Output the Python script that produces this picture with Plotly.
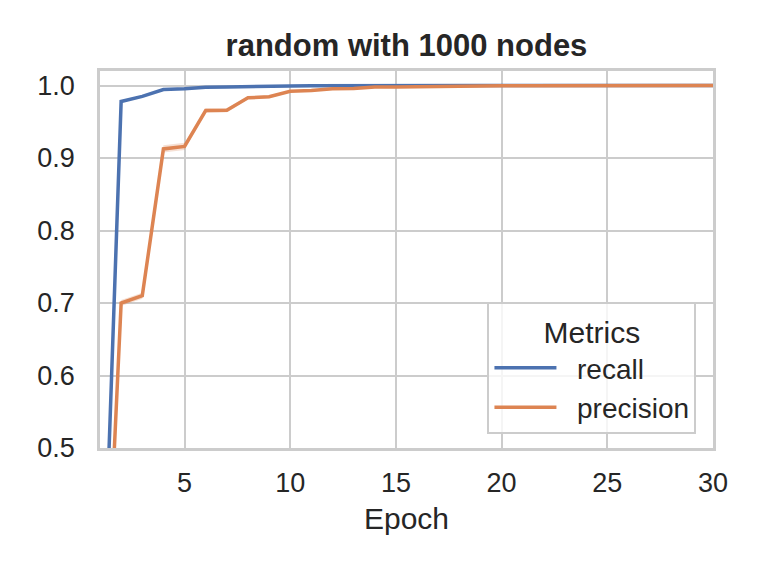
import plotly.graph_objects as go

epochs = list(range(1, 31))
recall = [0.14, 0.978, 0.985, 0.9945, 0.9955, 0.9977, 0.998, 0.9988, 0.999, 0.9993,
          0.9995, 0.9997, 0.9998, 0.9999, 0.9999, 1.0, 1.0, 1.0, 1.0, 1.0,
          1.0, 1.0, 1.0, 1.0, 1.0, 1.0, 1.0, 1.0, 1.0, 1.0]
precision = [0.075, 0.700, 0.710, 0.9125, 0.916, 0.9655, 0.966, 0.983, 0.9844, 0.992,
             0.993, 0.9955, 0.996, 0.998, 0.998, 0.9985, 0.999, 0.999, 0.9993, 0.9995,
             0.9996, 0.9997, 0.9997, 0.9998, 0.9998, 0.9999, 0.9999, 0.9999, 1.0, 1.0]
precision_ci = [0.01, 0.004, 0.004, 0.005, 0.005, 0.003, 0.003, 0.002, 0.002, 0.001,
                0.001, 0.001, 0.001, 0.0005, 0.0005, 0.0005, 0.0005, 0.0003, 0.0003, 0.0003,
                0.0002, 0.0002, 0.0002, 0.0002, 0.0001, 0.0001, 0.0001, 0.0001, 0.0001, 0.0001]

title_text = "random with 1000 nodes"
x_label = "Epoch"
legend_title = "Metrics"
series_names = ["recall", "precision"]
x_ticks = [5, 10, 15, 20, 25, 30]
y_ticks = [0.5, 0.6, 0.7, 0.8, 0.9, 1.0]

BLUE = "#4c72b0"
ORANGE = "#dd8452"
GRID = "#cccccc"
TEXT = "#262626"
FONT = "Liberation Sans, Arial, sans-serif"
PAD = "\u00a0\u00a0"

# page body has an 8px default margin; size the figure to fill the rest
W, H = 753, 563

upper = [p + c for p, c in zip(precision, precision_ci)]
lower = [p - c for p, c in zip(precision, precision_ci)]

fig = go.Figure()
fig.add_trace(go.Scatter(x=epochs, y=upper, mode="lines", line=dict(width=0),
                         showlegend=False, hoverinfo="skip"))
fig.add_trace(go.Scatter(x=epochs, y=lower, mode="lines", line=dict(width=0),
                         fill="tonexty", fillcolor="rgba(221,132,82,0.25)",
                         showlegend=False, hoverinfo="skip"))
fig.add_trace(go.Scatter(x=epochs, y=recall, mode="lines", name=PAD + series_names[0],
                         line=dict(color=BLUE, width=3.5)))
fig.add_trace(go.Scatter(x=epochs, y=precision, mode="lines", name=PAD + series_names[1],
                         line=dict(color=ORANGE, width=3.5)))

fig.update_layout(
    width=W, height=H,
    margin=dict(l=92, r=48, t=63, b=123),
    plot_bgcolor="white", paper_bgcolor="white",
    font=dict(family=FONT, color=TEXT, size=27),
    title=dict(text="<b>" + title_text + "</b>", x=0.5, xref="paper", xanchor="center",
               y=1 - 37 / H, yref="container", yanchor="middle",
               font=dict(size=31, color=TEXT, family=FONT)),
    legend=dict(
        title=dict(text=legend_title, side="top center", font=dict(size=30)),
        font=dict(size=28),
        traceorder="normal",
        itemwidth=62,
        x=0.973, xanchor="right", y=0.037, yanchor="bottom",
        bgcolor="rgba(255,255,255,0.8)", bordercolor=GRID, borderwidth=2,
        tracegroupgap=6,
    ),
)
fig.update_xaxes(
    range=[1, 30], tickvals=x_ticks, showgrid=True, gridcolor=GRID, gridwidth=2,
    zeroline=False, showline=True, linecolor=GRID, linewidth=2.5, mirror=True,
    ticks="", ticklabelstandoff=9,
    title=dict(text=x_label, font=dict(size=30), standoff=11),
)
fig.update_yaxes(
    range=[0.5, 1.02], tickvals=y_ticks, tickformat=".1f", showgrid=True,
    gridcolor=GRID, gridwidth=2, zeroline=False, showline=True, linecolor=GRID,
    linewidth=2.5, mirror=True, ticks="", ticklabelstandoff=17,
)

fig.write_html("out.html")
